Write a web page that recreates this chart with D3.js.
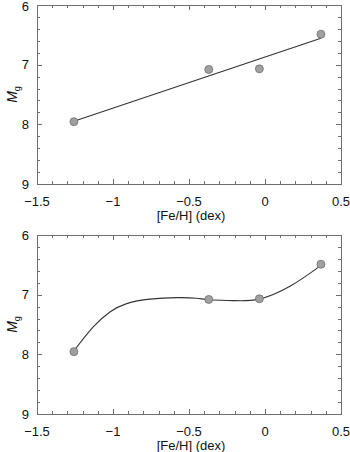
<!DOCTYPE html>
<html>
<head>
<meta charset="utf-8">
<script src="https://cdn.jsdelivr.net/npm/d3@7"></script>
<style>
  html, body { margin: 0; padding: 0; background: #fff; }
  svg { display: block; }
</style>
</head>
<body>
<div id="chart"></div>
<script>
// stars: metallicity vs absolute g magnitude
const feh = [-1.257, -0.37, -0.037, 0.368];
const mg = [7.955, 7.08, 7.07, 6.49];

// linear fit, endpoints
const fitX = [-1.257, 0.368];
const fitY = [7.949, 6.556];

// smooth curve of the bottom panel
const curveX = [-1.257, -1.13, -1.02, -0.91, -0.757, -0.58, -0.45, -0.366, -0.208, -0.04, 0.164, 0.373];
const curveY = [7.94, 7.54, 7.29, 7.15, 7.075, 7.05, 7.06, 7.085, 7.1, 7.075, 6.86, 6.50];

const xTicks = [-1.5, -1, -0.5, 0, 0.5];
const yTicks = [6, 7, 8, 9];

const W = 350, H = 452;
const left = 37, right = 341;
const panels = [
  { top: 5, bottom: 184, lineX: fitX, lineY: fitY, curve: d3.curveLinear },
  { top: 235, bottom: 414, lineX: curveX, lineY: curveY, curve: d3.curveNatural },
];

const svg = d3.select('#chart').append('svg').attr('width', W).attr('height', H);
const font = 'Liberation Sans, Arial, sans-serif';
const frameColor = '#6e6e6e';
const fmt = (d) => (d < 0 ? '\u2212' + Math.abs(d) : String(d));

panels.forEach((p) => {
  const x = d3.scaleLinear().domain([-1.5, 0.5]).range([left, right]);
  const y = d3.scaleLinear().domain([6, 9]).range([p.top, p.bottom]);
  const g = svg.append('g');

  // minor / major ticks, inward on all four sides
  const xt = d3.range(-1.5, 0.5001, 0.1);
  xt.forEach((v) => {
    const major = Math.abs(v * 2 - Math.round(v * 2)) < 1e-6;
    const len = major ? 5 : 3;
    const px = Math.round(x(v)) + 0.5;
    g.append('line').attr('x1', px).attr('x2', px).attr('y1', p.bottom).attr('y2', p.bottom - len)
      .attr('stroke', frameColor).attr('stroke-width', 1);
    g.append('line').attr('x1', px).attr('x2', px).attr('y1', p.top).attr('y2', p.top + len)
      .attr('stroke', frameColor).attr('stroke-width', 1);
  });
  const yt = d3.range(6, 9.0001, 0.2);
  yt.forEach((v) => {
    const major = Math.abs(v - Math.round(v)) < 1e-6;
    const len = major ? 5 : 3;
    const py = Math.round(y(v)) + 0.5;
    g.append('line').attr('x1', left).attr('x2', left + len).attr('y1', py).attr('y2', py)
      .attr('stroke', frameColor).attr('stroke-width', 1);
    g.append('line').attr('x1', right).attr('x2', right - len).attr('y1', py).attr('y2', py)
      .attr('stroke', frameColor).attr('stroke-width', 1);
  });

  g.append('rect')
    .attr('x', left + 0.5).attr('y', p.top + 0.5)
    .attr('width', right - left).attr('height', p.bottom - p.top)
    .attr('fill', 'none').attr('stroke', frameColor).attr('stroke-width', 1);

  // tick labels
  g.selectAll('text.xt').data(xTicks).join('text')
    .attr('x', (d) => x(d)).attr('y', p.bottom + 22)
    .attr('text-anchor', 'middle').attr('font-family', font).attr('font-size', 13)
    .attr('fill', '#111').text(fmt);
  g.selectAll('text.yt').data(yTicks).join('text')
    .attr('x', left - 8).attr('y', (d) => y(d) + 4.5 + (d === 6 && p.top < 10 ? 1 : 0))
    .attr('text-anchor', 'end').attr('font-family', font).attr('font-size', 13)
    .attr('fill', '#111').text(fmt);

  g.append('text')
    .attr('x', (left + right) / 2 + 2).attr('y', p.bottom + 36)
    .attr('text-anchor', 'middle').attr('font-family', font).attr('font-size', 13)
    .attr('fill', '#111').text('[Fe/H] (dex)');

  const yl = g.append('text')
    .attr('transform', `translate(17,${(p.top + p.bottom) / 2}) rotate(-90)`)
    .attr('text-anchor', 'middle').attr('font-family', font).attr('font-size', 14)
    .attr('fill', '#111');
  yl.append('tspan').attr('font-style', 'italic').text('M');
  yl.append('tspan').attr('font-size', 9).attr('dy', 3).text('g');

  // fit line / curve
  const pts = p.lineX.map((v, i) => [v, p.lineY[i]]);
  g.append('path')
    .attr('d', d3.line().x((d) => x(d[0])).y((d) => y(d[1])).curve(p.curve)(pts))
    .attr('fill', 'none').attr('stroke', '#333').attr('stroke-width', 1.1);

  // data points
  g.selectAll('circle').data(feh).join('circle')
    .attr('cx', (d) => x(d)).attr('cy', (d, i) => y(mg[i]))
    .attr('r', 4).attr('fill', '#a0a0a0').attr('stroke', '#707070').attr('stroke-width', 0.8);
});
</script>
</body>
</html>
